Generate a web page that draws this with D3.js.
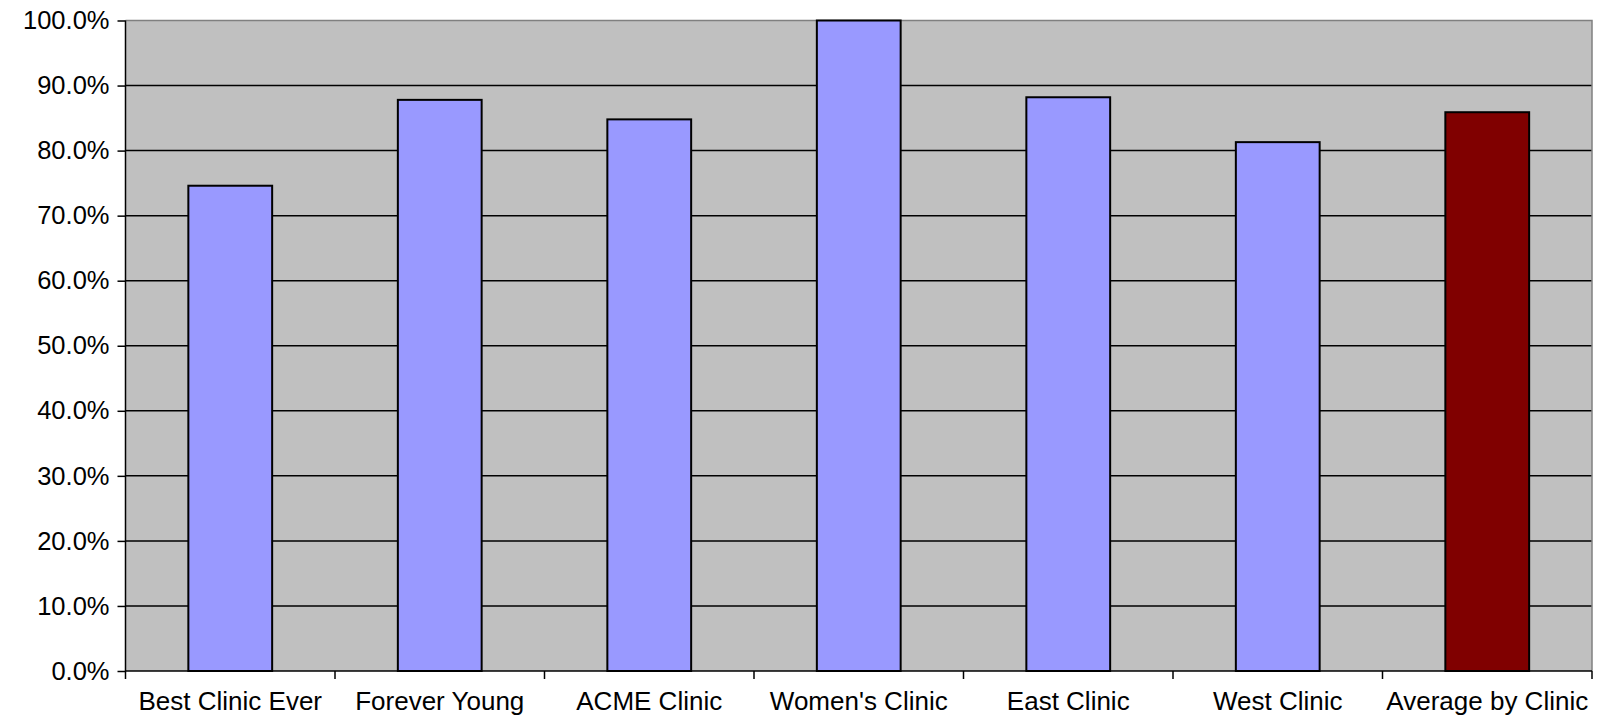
<!DOCTYPE html>
<html>
<head>
<meta charset="utf-8">
<script src="https://cdn.jsdelivr.net/npm/d3@7"></script>
<style>
  html, body { margin: 0; padding: 0; background: #ffffff; }
  svg { display: block; }
  text { font-family: "Liberation Sans", Arial, sans-serif; fill: #000; }
</style>
</head>
<body>
<svg id="chart" width="1607" height="716"></svg>
<script>
// Clinic scores (share, 0..1)
const categories = ["Best Clinic Ever", "Forever Young", "ACME Clinic", "Women's Clinic", "East Clinic", "West Clinic", "Average by Clinic"];
const values = [0.746, 0.878, 0.848, 1.0, 0.882, 0.813, 0.859];
const barColors = ["#9999ff", "#9999ff", "#9999ff", "#9999ff", "#9999ff", "#9999ff", "#800000"];
const yTicks = [0, 0.1, 0.2, 0.3, 0.4, 0.5, 0.6, 0.7, 0.8, 0.9, 1.0];

const svg = d3.select("#chart");
const margin = { left: 125.5, right: 15, top: 20.5, bottom: 45 };
const W = 1607, H = 716;
const x0 = margin.left, x1 = W - margin.right;
const y0 = H - margin.bottom, y1 = margin.top;

const x = d3.scaleBand().domain(categories).range([x0, x1]).paddingInner(0.6).paddingOuter(0.3);
const xb = d3.scaleBand().domain(categories).range([x0, x1]);
const y = d3.scaleLinear().domain([0, 1]).range([y0, y1]);

// plot background
svg.append("rect")
  .attr("x", x0).attr("y", y1)
  .attr("width", x1 - x0).attr("height", y0 - y1)
  .attr("fill", "#c0c0c0");

// horizontal gridlines
svg.append("g")
  .selectAll("line")
  .data(yTicks.filter(t => t > 0 && t < 1))
  .join("line")
  .attr("x1", x0).attr("x2", x1)
  .attr("y1", d => y(d)).attr("y2", d => y(d))
  .attr("stroke", "#000").attr("stroke-width", 1.5);

// top and right border
svg.append("path")
  .attr("d", `M${x0},${y1}H${x1}V${y0}`)
  .attr("fill", "none").attr("stroke", "#808080").attr("stroke-width", 1.5);

// bars
svg.append("g")
  .selectAll("rect")
  .data(values)
  .join("rect")
  .attr("x", (d, i) => x(categories[i]))
  .attr("width", x.bandwidth())
  .attr("y", d => y(d))
  .attr("height", d => y(0) - y(d))
  .attr("fill", (d, i) => barColors[i])
  .attr("stroke", "#000").attr("stroke-width", 2);

// y axis
const yAxis = d3.axisLeft(y)
  .tickValues(yTicks)
  .tickFormat(d3.format(".1%"))
  .tickSize(8)
  .tickPadding(8);
const gy = svg.append("g").attr("transform", `translate(${x0},0)`).call(yAxis);
gy.select(".domain").attr("stroke", "#000").attr("stroke-width", 1.5).attr("d", `M0,${y1}V${y0}`);
gy.selectAll(".tick line").attr("stroke", "#000").attr("stroke-width", 1.5);
gy.selectAll(".tick text")
  .style("font-family", "'Liberation Sans', Arial, sans-serif")
  .style("font-size", "25.5px").attr("fill", "#000");

// x axis: ticks at category boundaries, labels centred in each band
const gx = svg.append("g").attr("transform", `translate(0,${y0})`);
gx.append("line").attr("x1", x0).attr("x2", x1).attr("y1", 0).attr("y2", 0)
  .attr("stroke", "#000").attr("stroke-width", 1.5);
const bounds = categories.map(c => xb(c)).concat([x1]);
gx.selectAll("line.tk").data(bounds).join("line").attr("class", "tk")
  .attr("x1", d => d).attr("x2", d => d).attr("y1", 0).attr("y2", 8)
  .attr("stroke", "#000").attr("stroke-width", 1.5);
gx.selectAll("text").data(categories).join("text")
  .attr("x", d => xb(d) + xb.bandwidth() / 2)
  .attr("y", 39)
  .attr("text-anchor", "middle")
  .style("font-size", "26px")
  .text(d => d);
</script>
</body>
</html>
